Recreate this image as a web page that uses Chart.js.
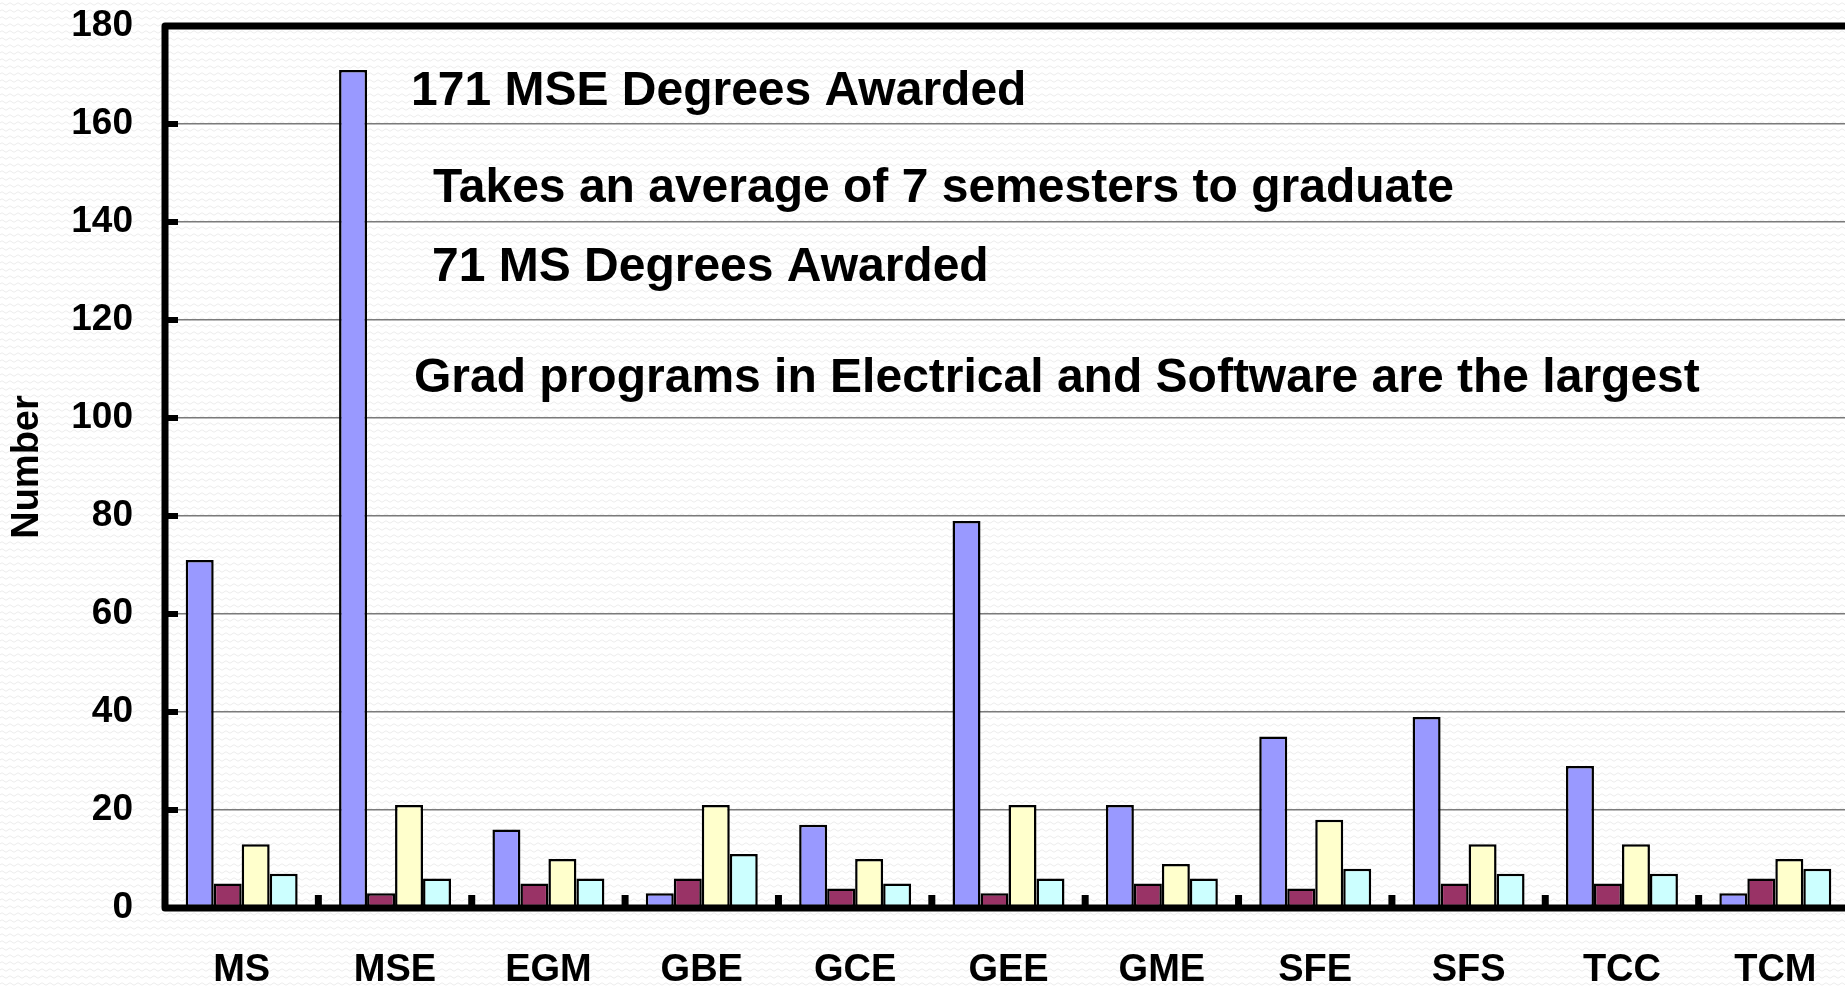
<!DOCTYPE html>
<html>
<head>
<meta charset="utf-8">
<title>Degrees Awarded</title>
<script src="https://cdn.jsdelivr.net/npm/chart.js@4.4.1/dist/chart.umd.min.js"></script>
<style>
    html, body { margin: 0; padding: 0; overflow: hidden; }
    body {
        background-color: #ffffff;
        background-image: url("data:image/svg+xml,%3Csvg xmlns='http://www.w3.org/2000/svg' width='8' height='7'%3E%3Cpath d='M0 4 Q2 1.5 4 4 T8 4' fill='none' stroke='%23ececec' stroke-width='1'/%3E%3C/svg%3E");
    }
    #chart-wrap { width: 1852px; height: 986px; }
</style>
</head>
<body>
<div id="chart-wrap"><canvas id="degrees-chart"></canvas></div>
<script>
// values
const programs = ['MS', 'MSE', 'EGM', 'GBE', 'GCE', 'GEE', 'GME', 'SFE', 'SFS', 'TCC', 'TCM'];
const series1 = [71, 171, 16, 3, 17, 79, 21, 35, 39, 29, 3];
const series2 = [5, 3, 5, 6, 4, 3, 5, 4, 5, 5, 6];
const series3 = [13, 21, 10, 21, 10, 21, 9, 18, 13, 13, 10];
const series4 = [7, 6, 6, 11, 5, 6, 6, 8, 7, 7, 8];
const yTicks = [0, 20, 40, 60, 80, 100, 120, 140, 160, 180];
const notes = [
    '171 MSE Degrees Awarded',
    'Takes an average of 7 semesters to graduate',
    '71 MS Degrees Awarded',
    'Grad programs in Electrical and Software are the largest'
];

Chart.defaults.font.family = "'Liberation Sans', Arial, sans-serif";
Chart.defaults.color = '#000';

// thick black frame plus the short inside tick marks
const framePlugin = {
    id: 'frame',
    afterDatasetsDraw(chart) {
        const { ctx, chartArea: a, scales } = chart;
        ctx.save();
        ctx.strokeStyle = '#000';
        ctx.lineWidth = 7;
        ctx.lineJoin = 'round';
        ctx.lineCap = 'round';
        ctx.beginPath();
        ctx.moveTo(a.right + 10, a.top);
        ctx.lineTo(a.left, a.top);
        ctx.lineTo(a.left, a.bottom);
        ctx.lineTo(a.right + 10, a.bottom);
        ctx.stroke();

        ctx.lineCap = 'butt';
        ctx.lineWidth = 6;
        yTicks.slice(1, -1).forEach(v => {
            const y = scales.y.getPixelForValue(v);
            ctx.beginPath();
            ctx.moveTo(a.left, y);
            ctx.lineTo(a.left + 13, y);
            ctx.stroke();
        });

        ctx.lineWidth = 7;
        for (let i = 0; i < programs.length - 1; i++) {
            const x = (scales.x.getPixelForValue(i) + scales.x.getPixelForValue(i + 1)) / 2;
            ctx.beginPath();
            ctx.moveTo(x, a.bottom);
            ctx.lineTo(x, a.bottom - 13);
            ctx.stroke();
        }
        ctx.restore();
    }
};

const notesPlugin = {
    id: 'notes',
    afterDraw(chart) {
        const { ctx } = chart;
        const spots = [[411, 105], [433, 202], [432, 281], [414, 392]];
        ctx.save();
        ctx.fillStyle = '#000';
        ctx.font = "bold 48px 'Liberation Sans', Arial, sans-serif";
        ctx.textBaseline = 'alphabetic';
        notes.forEach((text, i) => ctx.fillText(text, spots[i][0], spots[i][1]));
        ctx.restore();
    }
};

const barStyle = { borderColor: '#000', borderWidth: 2.5, borderSkipped: false };

new Chart(document.getElementById('degrees-chart'), {
    type: 'bar',
    data: {
        labels: programs,
        datasets: [
            { label: 'Series 1', data: series1, backgroundColor: '#9999ff', ...barStyle },
            { label: 'Series 2', data: series2, backgroundColor: '#993366', ...barStyle },
            { label: 'Series 3', data: series3, backgroundColor: '#ffffcc', ...barStyle },
            { label: 'Series 4', data: series4, backgroundColor: '#ccffff', ...barStyle }
        ]
    },
    options: {
        responsive: true,
        maintainAspectRatio: false,
        animation: false,
        datasets: { bar: { categoryPercentage: 0.73, barPercentage: 1.0 } },
        layout: { padding: { top: 26, right: 0, bottom: 0, left: 0 } },
        plugins: {
            legend: { display: false },
            tooltip: { enabled: false }
        },
        scales: {
            x: {
                grid: { display: false, drawTicks: false },
                border: { display: false },
                ticks: { font: { size: 38, weight: 'bold' }, padding: 40, maxRotation: 0, autoSkip: false },
                afterFit(scale) {
                    scale.height = 78;
                    scale.paddingLeft = 0;
                    scale.paddingRight = 0;
                }
            },
            y: {
                min: 0,
                max: 180,
                afterBuildTicks(scale) { scale.ticks = yTicks.map(v => ({ value: v })); },
                grid: {
                    color: ctx => (ctx.tick && (ctx.tick.value === 0 || ctx.tick.value === 180)) ? 'rgba(0,0,0,0)' : '#7a7a7a',
                    lineWidth: 1.5,
                    drawTicks: false
                },
                border: { display: false },
                ticks: { font: { size: 37, weight: 'bold' }, padding: 32 },
                title: {
                    display: true,
                    text: 'Number',
                    font: { size: 38, weight: 'bold' },
                    padding: { top: 5, bottom: 0 }
                },
                afterFit(scale) {
                    scale.width = 165;
                    scale.paddingTop = 0;
                    scale.paddingBottom = 0;
                }
            }
        }
    },
    plugins: [framePlugin, notesPlugin]
});
</script>
</body>
</html>
